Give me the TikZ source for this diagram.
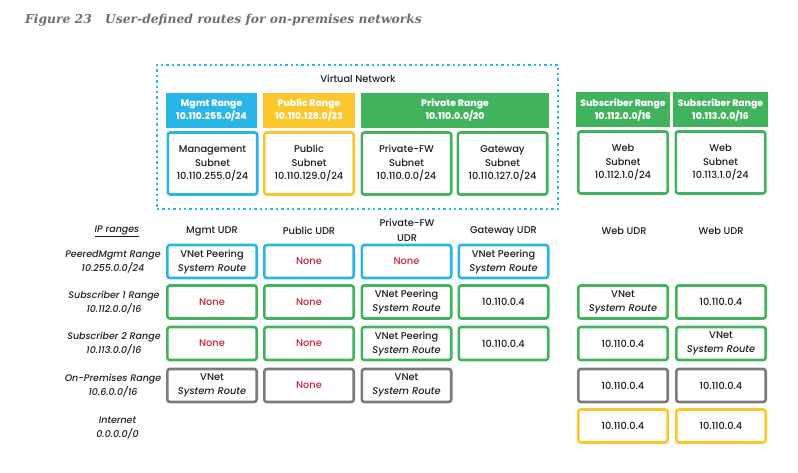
\documentclass[tikz,border=0pt]{standalone}
\usepackage{fontspec}
\setmainfont{Poppins}
\newfontfamily\popmed{Poppins Medium}
\newfontfamily\titlefont{DejaVu Serif}
\definecolor{cyanC}{HTML}{29B5E8}
\definecolor{yellowC}{HTML}{FCC72C}
\definecolor{greenC}{HTML}{41B35D}
\definecolor{grayC}{HTML}{7B7B7B}
\definecolor{redC}{HTML}{C4263A}
\definecolor{titleC}{HTML}{6E6E6E}
\definecolor{txtC}{HTML}{1E1E1E}
\newcommand{\none}{\textcolor{redC}{None}}
\newcommand{\sr}{\textit{System Route}}
\begin{document}
\begin{tikzpicture}[x=1pt,y=-1pt,
  cellfont/.style={font=\popmed\fontsize{9.8}{13.5}\selectfont, text=txtC},
  cell/.style={draw=#1, line width=2.6pt, rounded corners=2.5pt, fill=white,
    minimum width=89.4pt, minimum height=33pt, align=center, inner sep=0pt, cellfont,
    font=\popmed\fontsize{9.8}{14}\selectfont},
  subnet/.style={draw=#1, line width=2.6pt, rounded corners=2.5pt, fill=white,
    minimum width=89.4pt, minimum height=62pt, align=center, inner sep=0pt, cellfont},
  hdr/.style={fill=#1, minimum height=35pt, align=center, text=white, inner sep=0pt,
    font=\popmed\bfseries\fontsize{9.3}{13}\selectfont},
  colhead/.style={align=center, inner sep=0pt, text=txtC, font=\popmed\fontsize{9.8}{15}\selectfont},
  rowhead/.style={align=center, inner sep=0pt, text=txtC, font=\popmed\itshape\fontsize{9.5}{14}\selectfont},
  vnetbox/.style={draw=cyanC, line width=2.4pt, dash pattern=on 2.4pt off 3pt, minimum width=401pt, minimum height=144pt, inner sep=0pt}
]
\useasboundingbox (0,0) rectangle (798,473);

% title
\node[anchor=west, inner sep=0pt, text=titleC, font=\titlefont\bfseries\itshape\fontsize{12.3}{14}\selectfont] (fig) at (25,20) {Figure 23};
\node[anchor=west, inner sep=0pt, text=titleC, font=\titlefont\bfseries\itshape\fontsize{12.3}{14}\selectfont] (title) at (105,20) {User-defined routes for on-premises networks};

% virtual network
\node[vnetbox] (vnet) at (357.5,137) {};
\node[cellfont] (vnlabel) at (358,79) {Virtual Network};

% range headers
\node[hdr=cyanC, minimum width=91pt] (hm) at (211.5,110.5) {Mgmt Range\\10.110.255.0/24};
\node[hdr=yellowC, minimum width=92pt] (hp) at (309,110.5) {Public Range\\10.110.128.0/23};
\node[hdr=greenC, minimum width=188pt] (hpr) at (455,110.5) {Private Range\\10.110.0.0/20};
\node[hdr=greenC, minimum width=94pt] (hs1) at (623,110) {Subscriber Range\\10.112.0.0/16};
\node[hdr=greenC, minimum width=95pt] (hs2) at (720.5,110) {Subscriber Range\\10.113.0.0/16};

% subnets
\node[subnet=cyanC] (sm) at (212.5,163.5) {Management\\Subnet\\10.110.255.0/24};
\node[subnet=yellowC] (sp) at (309,163.5) {Public\\Subnet\\10.110.129.0/24};
\node[subnet=greenC] (sf) at (406.5,163.5) {Private-FW\\Subnet\\10.110.0.0/24};
\node[subnet=greenC] (sg) at (502.5,163.5) {Gateway\\Subnet\\10.110.127.0/24};
\node[subnet=greenC] (sw1) at (623,162.5) {Web\\Subnet\\10.112.1.0/24};
\node[subnet=greenC] (sw2) at (720.5,162.5) {Web\\Subnet\\10.113.1.0/24};

% column headers
\node[rowhead] (iph) at (117,231) {\underline{IP ranges}};
\node[colhead] (ch1) at (212,231) {Mgmt UDR};
\node[colhead] (ch2) at (309,231) {Public UDR};
\node[colhead] (ch3) at (407,230) {Private-FW\\UDR};
\node[colhead] (ch4) at (503.5,231) {Gateway UDR};
\node[colhead] (ch5) at (624,231) {Web UDR};
\node[colhead] (ch6) at (721,231) {Web UDR};

% row headers
\node[rowhead] (rh1) at (113,262) {PeeredMgmt Range\\10.255.0.0/24};
\node[rowhead] (rh2) at (114,302.5) {Subscriber 1 Range\\10.112.0.0/16};
\node[rowhead] (rh3) at (114,344) {Subscriber 2 Range\\10.113.0.0/16};
\node[rowhead] (rh4) at (113,386) {On-Premises Range\\10.6.0.0/16};
\node[rowhead] (rh5) at (117.5,428) {Internet\\0.0.0.0/0};

% row 1
\node[cell=cyanC] (r1c1) at (212,261.5) {VNet Peering\\\sr};
\node[cell=cyanC] (r1c2) at (309,261.5) {\none};
\node[cell=cyanC] (r1c3) at (406.5,261.5) {\none};
\node[cell=cyanC] (r1c4) at (503.5,261.5) {VNet Peering\\\sr};
% row 2
\node[cell=greenC] (r2c1) at (212,302) {\none};
\node[cell=greenC] (r2c2) at (309,302) {\none};
\node[cell=greenC] (r2c3) at (406.5,302) {VNet Peering\\\sr};
\node[cell=greenC] (r2c4) at (503.5,302) {10.110.0.4};
\node[cell=greenC] (r2c5) at (623,302) {VNet\\\sr};
\node[cell=greenC] (r2c6) at (721,302) {10.110.0.4};
% row 3
\node[cell=greenC] (r3c1) at (212,343.5) {\none};
\node[cell=greenC] (r3c2) at (309,343.5) {\none};
\node[cell=greenC] (r3c3) at (406.5,343.5) {VNet Peering\\\sr};
\node[cell=greenC] (r3c4) at (503.5,343.5) {10.110.0.4};
\node[cell=greenC] (r3c5) at (623,343.5) {10.110.0.4};
\node[cell=greenC] (r3c6) at (721,343.5) {VNet\\\sr};
% row 4
\node[cell=grayC] (r4c1) at (212,385.5) {VNet\\\sr};
\node[cell=grayC] (r4c2) at (309,385.5) {\none};
\node[cell=grayC] (r4c3) at (406.5,385.5) {VNet\\\sr};
\node[cell=grayC] (r4c5) at (623,385.5) {10.110.0.4};
\node[cell=grayC] (r4c6) at (721,385.5) {10.110.0.4};
% row 5
\node[cell=yellowC] (r5c5) at (623,426) {10.110.0.4};
\node[cell=yellowC] (r5c6) at (721,426) {10.110.0.4};
\end{tikzpicture}
\end{document}
